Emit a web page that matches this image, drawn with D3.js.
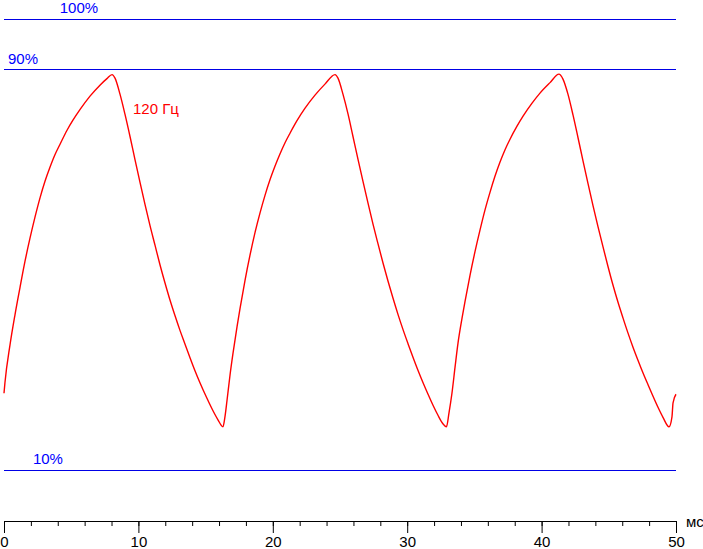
<!DOCTYPE html>
<html>
<head>
<meta charset="utf-8">
<script src="https://cdn.jsdelivr.net/npm/d3@7"></script>
<style>
  body { margin: 0; background: #fff; }
  svg { display: block; font-family: "Liberation Sans", Arial, sans-serif; }
</style>
</head>
<body>
<svg id="chart" width="703" height="549"></svg>
<script>
// time in ms, brightness in %
var timeMs = [
  0, 0.07, 0.45, 0.82, 1.19, 1.56, 1.93, 2.31, 2.68, 3.05, 3.42, 3.79, 4.17, 4.69, 5.13, 5.65, 6.40, 7.14, 7.66, 8.04,
  8.26, 8.63, 9.00, 9.38, 9.75, 10.12, 10.49, 10.86, 11.24, 11.61, 11.98, 12.35, 12.72, 13.10, 13.47, 13.84, 14.21, 14.58, 15.10, 15.55, 15.92, 16.29,
  16.44, 16.59, 16.82, 17.04, 17.34, 17.56, 17.93, 18.30, 18.68, 19.05, 19.42, 19.79, 20.16, 20.54, 20.91, 21.28, 21.80, 22.40, 23.14, 23.88, 24.63,
  24.85, 25.22, 25.60, 25.97, 26.34, 26.71, 27.08, 27.46, 27.83, 28.20, 28.57, 28.94, 29.32, 29.69, 30.06, 30.43, 30.80, 31.18, 31.55, 31.92, 32.29, 32.66, 32.92,
  33.11, 33.33, 33.56, 33.78, 34.08, 34.30, 34.67, 35.04, 35.42, 35.79, 36.16, 36.53, 36.90, 37.28, 37.65, 38.17, 38.62, 39.29, 39.88, 40.63, 41.29,
  41.59, 41.96, 42.34, 42.71, 43.08, 43.45, 43.82, 44.20, 44.57, 44.94, 45.31, 45.68, 46.06, 46.43, 46.80, 47.17, 47.54, 47.92, 48.29, 48.66, 49.03, 49.48,
  49.70, 49.78, 50.0
];
var brightness = [
  25.3, 27.4, 35.0, 41.0, 46.4, 51.6, 56.2, 60.5, 64.3, 67.6, 70.4, 72.9, 75.0, 77.8, 79.8, 81.9, 84.6, 86.8, 88.1, 88.9,
  88.2, 85.0, 81.0, 76.5, 71.9, 67.4, 63.0, 58.8, 54.8, 50.9, 47.3, 43.9, 40.8, 37.8, 35.1, 32.4, 29.8, 27.4, 24.3, 21.8, 20.0, 18.6,
  20.6, 23.8, 29.0, 33.3, 38.6, 42.2, 47.8, 52.8, 57.4, 61.3, 64.8, 67.9, 70.6, 73.1, 75.3, 77.2, 79.7, 82.2, 84.8, 87.0, 88.9,
  88.2, 85.0, 81.0, 76.5, 72.0, 67.6, 63.3, 59.0, 55.1, 51.3, 47.7, 44.3, 41.0, 38.0, 35.2, 32.5, 29.9, 27.4, 25.1, 22.9, 20.9, 19.2, 18.6,
  21.4, 25.3, 30.5, 35.3, 40.3, 43.6, 48.8, 53.5, 57.9, 61.9, 65.4, 68.6, 71.4, 73.9, 76.0, 78.6, 80.6, 83.2, 85.2, 87.3, 89.0,
  88.0, 85.0, 80.8, 76.3, 71.7, 67.2, 62.8, 58.5, 54.5, 50.6, 46.9, 43.5, 40.3, 37.3, 34.5, 31.9, 29.4, 27.0, 24.7, 22.5, 20.5, 18.6,
  20.6, 23.4, 25.1
];

var levels = [100, 90, 10];
var levelLabels = ["100%", "90%", "10%"];
var levelLabelAt = [4.15, 0.3, 2.15];   // ms, where each label starts

var xMajor = [0, 10, 20, 30, 40, 50];
var xMinor = d3.range(0, 51, 2);
var xUnit = "мс";
var seriesLabel = "120 Гц";

var svg = d3.select("#chart");

var x = d3.scaleLinear().domain([0, 50]).range([4, 676]);
var y = d3.scaleLinear().domain([0, 100]).range([520, 19]);

var blue = "#0000e6";

// reference levels
var lv = svg.append("g");
levels.forEach(function (v, i) {
  var yy = Math.round(y(v)) + 0.5;
  lv.append("line")
    .attr("x1", x(0)).attr("x2", x(50))
    .attr("y1", yy).attr("y2", yy)
    .attr("stroke", blue).attr("stroke-width", 1);
  lv.append("text")
    .attr("x", x(levelLabelAt[i]))
    .attr("y", yy - (v == 90 ? 5.5 : 7))
    .attr("fill", "#0000ff")
    .attr("font-size", 15)
    .text(levelLabels[i]);
});

// x axis
var minorAxis = d3.axisBottom(x).tickValues(xMinor).tickSize(5).tickSizeOuter(0).tickFormat("");
var majorAxis = d3.axisBottom(x).tickValues(xMajor).tickSize(12).tickSizeOuter(0).tickPadding(3);

svg.append("g").attr("transform", "translate(0,521)").call(minorAxis);
var ax = svg.append("g").attr("transform", "translate(0,521)").call(majorAxis);
svg.selectAll(".domain, .tick line").attr("stroke", "#000");
ax.selectAll("text").attr("font-size", 15).attr("font-family", "Liberation Sans, Arial, sans-serif").attr("fill", "#000");

svg.append("text")
  .attr("x", 686).attr("y", 527)
  .attr("font-size", 15).attr("fill", "#000")
  .text(xUnit);

// curve
var pts = timeMs.map(function (t, i) { return [t, brightness[i]]; });
var line = d3.line()
  .x(function (d) { return x(d[0]); })
  .y(function (d) { return y(d[1]); })
  .curve(d3.curveMonotoneX);

svg.append("path")
  .datum(pts)
  .attr("d", line)
  .attr("fill", "none")
  .attr("stroke", "#ff0000")
  .attr("stroke-width", 1.4);

svg.append("text")
  .attr("x", 133).attr("y", 114)
  .attr("font-size", 15).attr("fill", "#ff0000")
  .text(seriesLabel);
</script>
</body>
</html>
